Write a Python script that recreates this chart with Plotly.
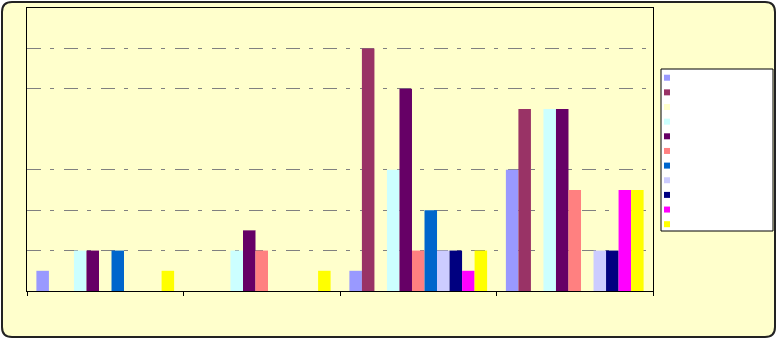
import plotly.graph_objects as go

# ---- data ----
categories = ["G1", "G2", "G3", "G4"]
series_names = ["S1", "S2", "S3", "S4", "S5", "S6", "S7", "S8", "S9", "S10", "S11"]
s1 = [1, 0, 1, 6]
s2 = [0, 0, 12, 9]
s3 = [0, 0, 0, 0]
s4 = [2, 2, 6, 9]
s5 = [2, 3, 10, 9]
s6 = [0, 2, 2, 5]
s7 = [2, 0, 4, 0]
s8 = [0, 0, 2, 2]
s9 = [0, 0, 2, 2]
s10 = [0, 0, 1, 5]
s11 = [1, 1, 2, 5]
series_values = [s1, s2, s3, s4, s5, s6, s7, s8, s9, s10, s11]
colors = ["#9999FF", "#993366", "#FFFFCC", "#CCFFFF", "#660066", "#FF8080",
          "#0066CC", "#CCCCFF", "#000080", "#FF00FF", "#FFFF00"]
grid_vals = [2, 4, 6, 10, 12]

# ---- layout geometry (pixels) ----
W, H = 777, 339
PL, PR, PT, PB = 27, 653, 8, 291
BG = "#FFFFCC"


def px(x):
    return (x - PL) / (PR - PL)


def py(y):
    return (PB - y) / (PB - PT)


fig = go.Figure()
for name, vals, col in zip(series_names, series_values, colors):
    fig.add_trace(go.Bar(x=categories, y=vals, name=name,
                         marker=dict(color=col, line=dict(width=0))))

shapes = []
# outer rounded border
x0, x1, y0, y1, r = 2, 775, 2, 337, 10
path = (f"M {px(x0+r)},{py(y0)} L {px(x1-r)},{py(y0)} Q {px(x1)},{py(y0)} {px(x1)},{py(y0+r)} "
        f"L {px(x1)},{py(y1-r)} Q {px(x1)},{py(y1)} {px(x1-r)},{py(y1)} "
        f"L {px(x0+r)},{py(y1)} Q {px(x0)},{py(y1)} {px(x0)},{py(y1-r)} "
        f"L {px(x0)},{py(y0+r)} Q {px(x0)},{py(y0)} {px(x0+r)},{py(y0)} Z")
shapes.append(dict(type="path", xref="paper", yref="paper", path=path,
                   fillcolor=BG, line=dict(color="#222222", width=2), layer="below"))

# legend box (no text labels in the reference)
shapes.append(dict(type="rect", xref="paper", yref="paper",
                   x0=px(661), x1=px(773), y0=py(69), y1=py(231),
                   fillcolor="white", line=dict(color="black", width=1), layer="above"))
for i, col in enumerate(colors):
    cy = 77.7 + i * 14.65
    shapes.append(dict(type="rect", xref="paper", yref="paper",
                       x0=px(664), x1=px(670), y0=py(cy - 3), y1=py(cy + 3),
                       fillcolor=col, line=dict(width=0), layer="above"))

fig.update_layout(
    width=W, height=H,
    margin=dict(l=PL, r=W - PR, t=PT, b=H - PB, pad=0),
    paper_bgcolor="white",
    plot_bgcolor="rgba(0,0,0,0)",
    barmode="group", bargap=0.12, bargroupgap=0,
    showlegend=False,
    shapes=shapes,
)
fig.update_xaxes(showticklabels=False, showgrid=False, tickson="boundaries",
                 ticks="outside", ticklen=4, tickcolor="black",
                 showline=True, linecolor="black", linewidth=1, mirror=True,
                 range=[-0.5, 3.5])
fig.update_yaxes(range=[0, 14], tickvals=grid_vals, showticklabels=False,
                 ticks="", showgrid=True, gridcolor="#808080", gridwidth=1,
                 griddash="14px,9px,4px,10px", zeroline=False,
                 showline=True, linecolor="black", linewidth=1, mirror=True)

fig.write_html("out.html")
